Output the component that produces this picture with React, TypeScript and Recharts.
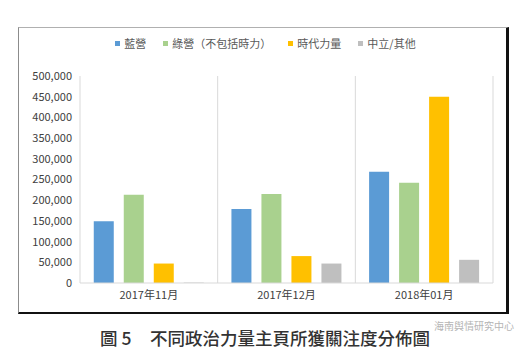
import React from "react"
import { Bar, BarChart, Legend, ReferenceLine, XAxis, YAxis } from "recharts"

const months = ["2017年11月", "2017年12月", "2018年01月"]
const blueCamp = [149000, 179000, 269000]
const greenCamp = [213000, 215000, 242000]
const newPower = [47000, 65000, 450000]
const neutral = [1000, 47000, 56000]
const yTicks = [0, 50000, 100000, 150000, 200000, 250000, 300000, 350000, 400000, 450000, 500000]

const series = [
  { key: "blue", name: "藍營", color: "#5B9BD5" },
  { key: "green", name: "綠營（不包括時力）", color: "#A9D18E" },
  { key: "power", name: "時代力量", color: "#FFC000" },
  { key: "neutral", name: "中立/其他", color: "#BFBFBF" },
]

const data = months.map((m, i) => ({
  month: m,
  blue: blueCamp[i],
  green: greenCamp[i],
  power: newPower[i],
  neutral: neutral[i],
}))

const font = "'Noto Sans CJK TC', 'Noto Sans', sans-serif"
const gridColor = "#d9d9d9"

function LegendRow() {
  return (
    <div style={{ display: "flex", justifyContent: "center", fontSize: 11, color: "#595959" }}>
      {series.map((s) => (
        <span key={s.key} style={{ display: "flex", alignItems: "center", marginRight: 17 }}>
          <span
            style={{ width: 5, height: 5, background: s.color, display: "inline-block", marginRight: 4 }}
          />
          {s.name}
        </span>
      ))}
    </div>
  )
}

export default function App() {
  return (
    <div
      style={{
        position: "absolute",
        left: 0,
        top: 0,
        width: 528,
        height: 355,
        background: "#fff",
        fontFamily: font,
      }}
    >
      {/* chart frame */}
      <div
        style={{
          position: "absolute",
          left: 18,
          top: 27,
          width: 487,
          height: 284,
          borderLeft: "1px solid #8c8c8c",
          borderTop: "1px solid #b0b0b0",
          borderRight: "3px solid #111",
          borderBottom: "2px solid #111",
        }}
      />
      <div style={{ position: "absolute", left: 0, top: 0 }}>
        <BarChart
          width={528}
          height={320}
          data={data}
          margin={{ top: 60, right: 35, left: 18, bottom: 12 }}
          barCategoryGap="10%"
          barGap={10}
        >
          <XAxis
            dataKey="month"
            tickLine={false}
            axisLine={{ stroke: gridColor }}
            tick={{ fontSize: 11, fill: "#404040", fontFamily: font }}
            height={25}
          />
          <YAxis
            domain={[0, 500000]}
            ticks={yTicks}
            width={62}
            axisLine={false}
            tickLine={false}
            interval={0}
            tickFormatter={(v: number) => v.toLocaleString("en-US")}
            tick={{ fontSize: 11, fill: "#404040", fontFamily: font }}
          />
          {months.map((m) => (
            <ReferenceLine key={m} x={m} position="start" stroke={gridColor} />
          ))}
          <ReferenceLine x={months[months.length - 1]} position="end" stroke={gridColor} />
          <Legend
            verticalAlign="top"
            content={() => <LegendRow />}
            wrapperStyle={{ top: 35, left: 10, width: 528, fontFamily: font }}
          />
          {series.map((s) => (
            <Bar key={s.key} dataKey={s.key} name={s.name} fill={s.color} isAnimationActive={false} />
          ))}
        </BarChart>
      </div>
      <div
        style={{
          position: "absolute",
          left: 100,
          top: 325,
          fontSize: 17.5,
          fontWeight: 500,
          color: "#333",
          whiteSpace: "pre",
        }}
      >
        圖 5
      </div>
      <div
        style={{
          position: "absolute",
          left: 150,
          top: 325,
          fontSize: 17.5,
          fontWeight: 500,
          color: "#333",
          whiteSpace: "pre",
        }}
      >
        不同政治力量主頁所獲關注度分佈圖
      </div>
      <div
        style={{
          position: "absolute",
          left: 434,
          top: 318,
          fontSize: 10,
          color: "#b5b5b5",
        }}
      >
        海南舆情研究中心
      </div>
    </div>
  )
}
